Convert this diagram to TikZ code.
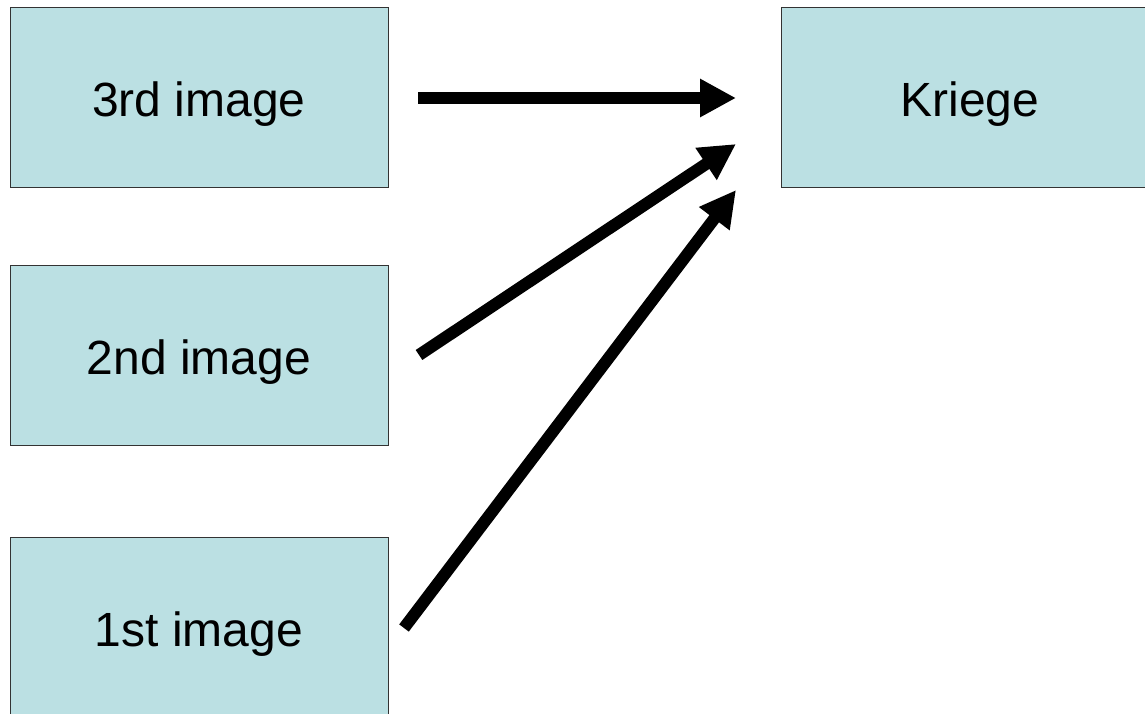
\documentclass[tikz,border=0pt]{standalone}
\usepackage{fontspec}
\setmainfont{Liberation Sans}
\usetikzlibrary{arrows.meta}
\definecolor{boxfill}{HTML}{BBE0E3}
\definecolor{boxline}{HTML}{333333}
\begin{document}
\begin{tikzpicture}[x=1pt,y=-1pt,
  imgbox/.style={draw=boxline,line width=1pt,fill=boxfill,minimum width=378pt,minimum height=180pt,inner sep=0pt,text height=38pt,text depth=0pt,font=\fontsize{48}{54}\selectfont},
  bigarrow/.style={line width=12pt,-{Triangle[length=36pt,width=36pt]}}]
\useasboundingbox (0,0) rectangle (1145,714);
\clip (0,0) rectangle (1145,714);
\node[imgbox] (third) at (199,98) {3rd image};
\node[imgbox] (second) at (199,355) {2nd image};
\node[imgbox] (first) at (199,627) {1st image};
\node[imgbox] (kriege) at (970,98) {Kriege};
\coordinate (s3) at (418,98);
\coordinate (e3) at (736,98);
\coordinate (s2) at (419,355);
\coordinate (e2) at (736,144);
\coordinate (s1) at (404,628);
\coordinate (e1) at (736,190);
\draw[bigarrow] (s3) -- (e3);
\draw[bigarrow] (s2) -- (e2);
\draw[bigarrow] (s1) -- (e1);
\end{tikzpicture}
\end{document}
